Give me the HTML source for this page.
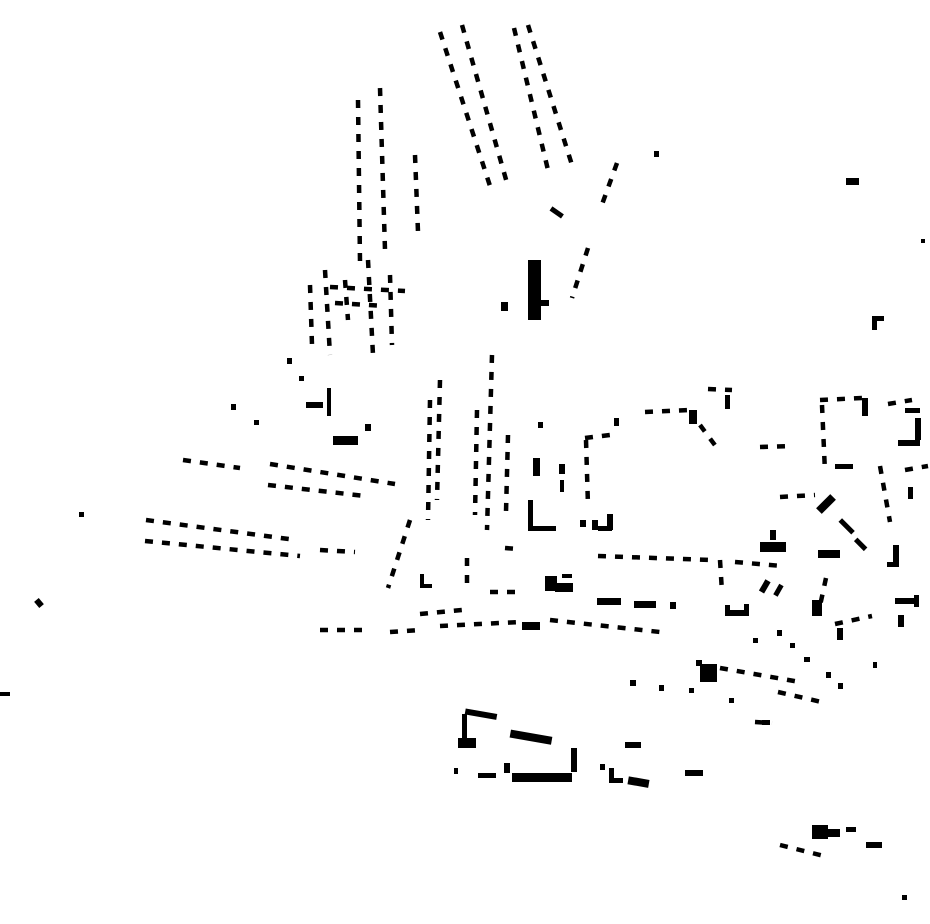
<!DOCTYPE html>
<html><head><meta charset="utf-8"><style>
html,body{margin:0;padding:0;background:#fff;width:930px;height:924px;overflow:hidden}
svg{display:block}
</style></head><body>
<svg width="930" height="924" viewBox="0 0 930 924" xmlns="http://www.w3.org/2000/svg">
<g stroke="#000" fill="none" stroke-width="4.5" stroke-dasharray="8 9">
<line x1="440" y1="32" x2="490" y2="186"/>
<line x1="462" y1="25" x2="507" y2="183"/>
<line x1="514" y1="28" x2="548" y2="170"/>
<line x1="528" y1="25" x2="572" y2="165"/>
<line x1="358" y1="100" x2="360" y2="262"/>
<line x1="380" y1="88" x2="385" y2="250"/>
<line x1="415" y1="155" x2="418" y2="232"/>
<line x1="617" y1="163" x2="600" y2="210"/>
<line x1="588" y1="248" x2="572" y2="298"/>
<line x1="310" y1="285" x2="312" y2="345"/>
<line x1="325" y1="270" x2="330" y2="355"/>
<line x1="345" y1="280" x2="348" y2="320"/>
<line x1="368" y1="260" x2="373" y2="355"/>
<line x1="390" y1="275" x2="392" y2="345"/>
<line x1="330" y1="287" x2="405" y2="291"/>
<line x1="335" y1="303" x2="385" y2="306"/>
<line x1="183" y1="460" x2="240" y2="468"/>
<line x1="270" y1="464" x2="395" y2="484"/>
<line x1="268" y1="485" x2="365" y2="496"/>
<line x1="146" y1="520" x2="296" y2="540"/>
<line x1="145" y1="541" x2="300" y2="556"/>
<line x1="320" y1="550" x2="355" y2="552"/>
<line x1="440" y1="380" x2="437" y2="500"/>
<line x1="430" y1="400" x2="428" y2="520"/>
<line x1="492" y1="355" x2="487" y2="530"/>
<line x1="477" y1="410" x2="475" y2="515"/>
<line x1="508" y1="435" x2="506" y2="512"/>
<line x1="410" y1="520" x2="388" y2="588"/>
<line x1="467" y1="558" x2="467" y2="592"/>
<line x1="320" y1="630" x2="362" y2="630"/>
<line x1="390" y1="632" x2="420" y2="630"/>
<line x1="420" y1="614" x2="462" y2="610"/>
<line x1="440" y1="626" x2="520" y2="622"/>
<line x1="550" y1="620" x2="660" y2="632"/>
<line x1="586" y1="440" x2="588" y2="506"/>
<line x1="585" y1="438" x2="618" y2="434"/>
<line x1="645" y1="412" x2="690" y2="410"/>
<line x1="700" y1="425" x2="720" y2="452"/>
<line x1="708" y1="389" x2="732" y2="390"/>
<line x1="760" y1="447" x2="792" y2="446"/>
<line x1="598" y1="556" x2="712" y2="560"/>
<line x1="490" y1="592" x2="520" y2="592"/>
<line x1="720" y1="560" x2="722" y2="592"/>
<line x1="735" y1="562" x2="782" y2="566"/>
<line x1="780" y1="497" x2="815" y2="495"/>
<line x1="820" y1="400" x2="862" y2="398"/>
<line x1="822" y1="405" x2="825" y2="472"/>
<line x1="880" y1="466" x2="890" y2="522"/>
<line x1="888" y1="404" x2="912" y2="400"/>
<line x1="905" y1="470" x2="928" y2="466"/>
<line x1="826" y1="578" x2="818" y2="615"/>
<line x1="835" y1="624" x2="872" y2="616"/>
<line x1="720" y1="668" x2="800" y2="682"/>
<line x1="778" y1="692" x2="826" y2="703"/>
<line x1="780" y1="845" x2="824" y2="856"/>
<line x1="755" y1="722" x2="772" y2="723"/>
<line x1="505" y1="548" x2="518" y2="549"/>
</g>
<g fill="#000">
<rect x="528" y="260" width="13" height="60"/>
<rect x="540" y="300" width="9" height="6"/>
<rect x="501" y="302" width="7" height="9"/>
<rect x="846" y="178" width="13" height="7"/>
<rect x="921" y="239" width="4" height="4"/>
<rect x="872" y="316" width="12" height="5"/><rect x="872" y="316" width="5" height="14"/>
<rect x="654" y="151" width="5" height="6"/>
<rect x="550" y="210" width="14" height="5" transform="rotate(35 557 212)"/>
<rect x="287" y="358" width="5" height="6"/>
<rect x="299" y="376" width="5" height="5"/>
<rect x="306" y="402" width="17" height="6"/>
<rect x="327" y="388" width="4" height="28"/>
<rect x="333" y="436" width="25" height="9"/>
<rect x="365" y="424" width="6" height="7"/>
<rect x="231" y="404" width="5" height="6"/>
<rect x="254" y="420" width="5" height="5"/>
<rect x="79" y="512" width="5" height="5"/>
<rect x="36" y="599" width="6" height="8" transform="rotate(-40 39 603)"/>
<rect x="0" y="692" width="10" height="4"/>
<rect x="420" y="574" width="4" height="14"/><rect x="420" y="584" width="12" height="4"/>
<rect x="522" y="622" width="18" height="8"/>
<rect x="538" y="422" width="5" height="6"/>
<rect x="533" y="458" width="7" height="18"/>
<rect x="528" y="500" width="5" height="28"/><rect x="528" y="526" width="28" height="5"/>
<rect x="559" y="464" width="6" height="10"/><rect x="560" y="480" width="4" height="12"/>
<rect x="614" y="418" width="5" height="8"/>
<rect x="689" y="410" width="8" height="14"/>
<rect x="725" y="395" width="5" height="14"/>
<rect x="580" y="520" width="6" height="7"/><rect x="592" y="520" width="6" height="10"/><rect x="598" y="526" width="14" height="5"/><rect x="607" y="514" width="6" height="16"/>
<rect x="545" y="576" width="12" height="15"/><rect x="555" y="583" width="18" height="9"/><rect x="562" y="574" width="10" height="4"/>
<rect x="597" y="598" width="24" height="7"/><rect x="634" y="601" width="22" height="7"/><rect x="670" y="602" width="6" height="7"/>
<rect x="725" y="605" width="5" height="10"/><rect x="725" y="610" width="24" height="6"/><rect x="744" y="604" width="5" height="12"/>
<rect x="762" y="580" width="6" height="13" transform="rotate(30 765 586)"/><rect x="776" y="584" width="5" height="12" transform="rotate(30 778 590)"/>
<rect x="760" y="542" width="26" height="10"/><rect x="770" y="530" width="6" height="10"/>
<rect x="816" y="500" width="20" height="8" transform="rotate(-45 826 504)"/>
<rect x="838" y="524" width="18" height="5" transform="rotate(45 847 526)"/>
<rect x="854" y="542" width="14" height="5" transform="rotate(45 861 544)"/>
<rect x="818" y="550" width="22" height="8"/>
<rect x="835" y="464" width="18" height="5"/>
<rect x="862" y="398" width="6" height="18"/>
<rect x="893" y="545" width="6" height="20"/><rect x="887" y="562" width="12" height="5"/>
<rect x="905" y="408" width="15" height="5"/><rect x="915" y="418" width="6" height="22"/><rect x="898" y="440" width="22" height="6"/>
<rect x="908" y="487" width="5" height="12"/>
<rect x="895" y="598" width="22" height="6"/><rect x="914" y="595" width="5" height="12"/><rect x="898" y="615" width="6" height="12"/>
<rect x="812" y="600" width="10" height="16"/>
<rect x="700" y="664" width="17" height="18"/>
<rect x="696" y="660" width="6" height="6"/>
<rect x="753" y="638" width="5" height="5"/><rect x="777" y="630" width="5" height="6"/><rect x="790" y="643" width="5" height="5"/>
<rect x="804" y="657" width="6" height="5"/><rect x="826" y="672" width="5" height="6"/><rect x="838" y="683" width="5" height="6"/>
<rect x="630" y="680" width="6" height="6"/><rect x="659" y="685" width="5" height="6"/><rect x="689" y="688" width="5" height="5"/><rect x="729" y="698" width="5" height="5"/>
<rect x="465" y="711" width="32" height="6" transform="rotate(10 480 714)"/>
<rect x="462" y="714" width="5" height="24"/>
<rect x="458" y="738" width="18" height="10"/>
<rect x="510" y="733" width="42" height="8" transform="rotate(10 530 737)"/>
<rect x="571" y="748" width="6" height="24"/>
<rect x="478" y="773" width="18" height="5"/>
<rect x="504" y="763" width="6" height="10"/>
<rect x="512" y="773" width="60" height="9"/>
<rect x="454" y="768" width="4" height="6"/>
<rect x="600" y="764" width="5" height="6"/><rect x="609" y="768" width="5" height="14"/><rect x="609" y="778" width="14" height="5"/>
<rect x="625" y="742" width="16" height="6"/>
<rect x="628" y="778" width="21" height="8" transform="rotate(10 638 782)"/>
<rect x="685" y="770" width="18" height="6"/>
<rect x="812" y="825" width="16" height="14"/><rect x="826" y="829" width="14" height="8"/>
<rect x="846" y="827" width="10" height="5"/>
<rect x="866" y="842" width="16" height="6"/>
<rect x="902" y="895" width="5" height="5"/>
<rect x="762" y="720" width="8" height="5"/>
<rect x="873" y="662" width="4" height="6"/>
<rect x="837" y="628" width="6" height="12"/>
</g>
</svg>
</body></html>
